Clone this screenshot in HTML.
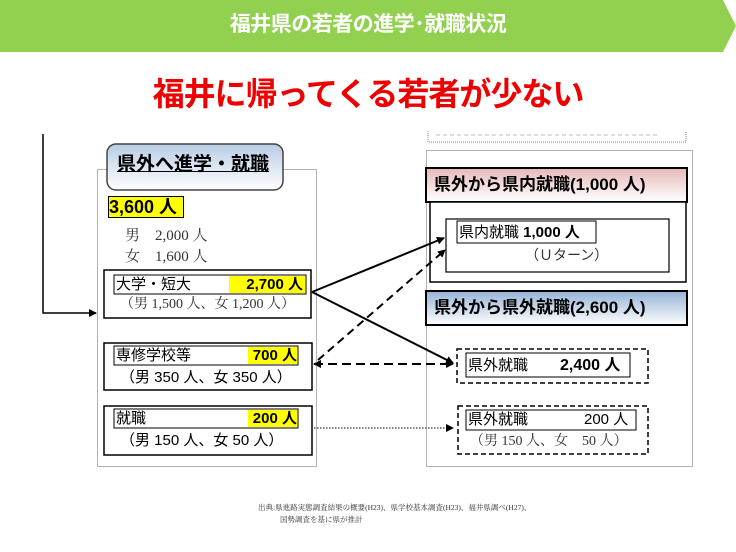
<!DOCTYPE html>
<html><head><meta charset="utf-8"><style>
*{margin:0;padding:0;box-sizing:border-box}
body{width:736px;height:552px;background:#fff;position:relative;overflow:hidden;font-family:"Liberation Sans","Noto Sans CJK JP",sans-serif}
.a{position:absolute}
.m{font-family:"Liberation Serif","Noto Serif CJK SC",serif}
.b{font-weight:bold}
.y{background:#ffff00}
</style></head><body>
<svg class="a" style="left:0;top:0" width="736" height="552">
<defs>
<marker id="ar" markerWidth="8" markerHeight="8" refX="7" refY="4" orient="auto" markerUnits="userSpaceOnUse"><path d="M0,0 L8,4 L0,8z" fill="#000"/></marker>
<marker id="ars" markerWidth="8" markerHeight="8" refX="1" refY="4" orient="auto" markerUnits="userSpaceOnUse"><path d="M8,0 L0,4 L8,8z" fill="#000"/></marker>
<linearGradient id="gb" x1="0" y1="0" x2="0" y2="1"><stop offset="0" stop-color="#b8cce4"/><stop offset="1" stop-color="#ffffff"/></linearGradient>
<linearGradient id="gp" x1="0" y1="0" x2="0" y2="1"><stop offset="0" stop-color="#e6b9b8"/><stop offset="1" stop-color="#ffffff"/></linearGradient>
<linearGradient id="gu" x1="0" y1="0" x2="0" y2="1"><stop offset="0" stop-color="#95b3d7"/><stop offset="1" stop-color="#ffffff"/></linearGradient>
</defs>
<polygon points="0,0 723,0 736,26 723,52 0,52" fill="#92d050"/>
<!-- left line -->
<polyline points="43,134 43,313 96,313" fill="none" stroke="#000" stroke-width="1.5" marker-end="url(#ar)"/>
<!-- dotted outer boxes -->
<rect x="97.5" y="169.5" width="219" height="297" fill="none" stroke="#666" stroke-width="1" stroke-dasharray="1,1"/>
<rect x="426.5" y="150.5" width="266" height="316" fill="none" stroke="#666" stroke-width="1" stroke-dasharray="1,1"/>
<path d="M428,131 V142 H686 V131" fill="none" stroke="#888" stroke-dasharray="1,1"/>
<line x1="436" y1="135" x2="660" y2="135" stroke="#bbb" stroke-dasharray="4,3"/>
<!-- header left -->
<rect x="107" y="144" width="176" height="46" rx="9" fill="url(#gb)" stroke="#444" stroke-width="1.5"/>
<!-- left boxes -->
<rect x="104" y="270" width="207" height="48" fill="#fff" stroke="#000" stroke-width="1.5"/>
<rect x="114" y="275" width="192" height="19" fill="none" stroke="#000" stroke-width="1"/>
<rect x="104" y="343" width="208" height="47" fill="#fff" stroke="#000" stroke-width="1.5"/>
<rect x="114" y="346" width="184" height="19" fill="none" stroke="#000" stroke-width="1"/>
<rect x="104" y="406" width="208" height="49" fill="#fff" stroke="#000" stroke-width="1.5"/>
<rect x="114" y="409" width="184" height="19" fill="none" stroke="#000" stroke-width="1"/>
<!-- right -->
<rect x="426" y="168" width="261" height="34" fill="url(#gp)" stroke="#000" stroke-width="2"/>
<rect x="430" y="202" width="256" height="80" fill="#fff" stroke="#000" stroke-width="1.5"/>
<rect x="446" y="219" width="223" height="53" fill="#fff" stroke="#000" stroke-width="1.2"/>
<rect x="457" y="221" width="139" height="22" fill="none" stroke="#000" stroke-width="1"/>
<rect x="426" y="291" width="261" height="34" fill="url(#gu)" stroke="#000" stroke-width="2"/>
<rect x="457" y="349" width="191" height="34" fill="#fff" stroke="#000" stroke-width="1.5" stroke-dasharray="5,3"/>
<rect x="466" y="353" width="164" height="24" fill="none" stroke="#000" stroke-width="1"/>
<rect x="458" y="406" width="190" height="48" fill="#fff" stroke="#000" stroke-width="1.5" stroke-dasharray="5,3"/>
<rect x="466" y="410" width="170" height="20" fill="none" stroke="#000" stroke-width="1"/>
<!-- arrows -->
<line x1="312" y1="292" x2="444" y2="238" stroke="#000" stroke-width="2" marker-end="url(#ar)"/>
<line x1="312" y1="292" x2="453" y2="363" stroke="#000" stroke-width="2" marker-end="url(#ar)"/>
<line x1="318" y1="360" x2="445" y2="250" stroke="#000" stroke-width="2" stroke-dasharray="8,5" marker-end="url(#ar)"/>
<line x1="314" y1="364" x2="453" y2="364" stroke="#000" stroke-width="2" stroke-dasharray="9,5" marker-start="url(#ars)" marker-end="url(#ar)"/>
<line x1="314" y1="428" x2="453" y2="428" stroke="#000" stroke-width="1" stroke-dasharray="1.5,1.5" marker-end="url(#ar)"/>
</svg>
<div class="a b" style="left:0;width:736px;top:10px;text-align:center;color:#fff;font-size:21px;line-height:30px;letter-spacing:-0.5px">福井県の若者の進学･就職状況</div>
<div class="a b" style="left:0;width:736px;top:72px;text-align:center;color:#ee0000;font-size:32px;line-height:44px;letter-spacing:-1px">福井に帰ってくる若者が少ない</div>
<div class="a b" style="left:117px;top:152px;font-size:19px;line-height:26px;text-decoration:underline">県外へ進学・就職</div>
<div class="a b y" style="left:108px;top:196px;width:76px;height:22px;border:1px solid #000;font-size:18px;line-height:20px">3,600 人</div>
<div class="a m" style="left:125px;top:226px;font-size:15px;line-height:20px;color:#333;white-space:pre">男　2,000 人</div>
<div class="a m" style="left:125px;top:247px;font-size:15px;line-height:20px;color:#333;white-space:pre">女　1,600 人</div>
<div class="a" style="left:116px;top:275px;font-size:15px;line-height:19px">大学・短大</div>
<div class="a b y" style="left:229px;top:276px;width:76px;font-size:15px;line-height:17px;text-align:right;padding-right:2px">2,700 人</div>
<div class="a m" style="left:120px;top:296px;font-size:14px;line-height:18px;color:#333">（男 1,500 人、女 1,200 人）</div>
<div class="a" style="left:116px;top:346px;font-size:15px;line-height:19px">専修学校等</div>
<div class="a b y" style="left:248px;top:347px;width:49px;font-size:15px;line-height:17px;text-align:right">700 人</div>
<div class="a" style="left:120px;top:368px;font-size:15px;line-height:19px">（男 350 人、女 350 人）</div>
<div class="a" style="left:116px;top:409px;font-size:15px;line-height:19px">就職</div>
<div class="a b y" style="left:248px;top:410px;width:49px;font-size:15px;line-height:17px;text-align:right">200 人</div>
<div class="a" style="left:120px;top:431px;font-size:15px;line-height:19px">（男 150 人、女 50 人）</div>
<div class="a b" style="left:434px;top:173px;font-size:17px;line-height:24px">県外から県内就職(1,000 人)</div>
<div class="a" style="left:459px;top:223px;font-size:15px;line-height:19px">県内就職 <b>1,000 人</b></div>
<div class="a" style="left:525px;top:246px;font-size:14px;line-height:19px;color:#333">（Ｕターン）</div>
<div class="a b" style="left:434px;top:296px;font-size:17px;line-height:24px">県外から県外就職(2,600 人)</div>
<div class="a" style="left:468px;top:356px;font-size:15px;line-height:19px">県外就職</div>
<div class="a b" style="left:560px;top:356px;font-size:16px;line-height:19px">2,400 人</div>
<div class="a" style="left:468px;top:410px;font-size:15px;line-height:19px">県外就職</div>
<div class="a" style="left:584px;top:410px;font-size:15px;line-height:19px">200 人</div>
<div class="a m" style="left:470px;top:432px;font-size:14px;line-height:19px;color:#333;white-space:pre">（男 150 人、女　50 人）</div>
<div class="a m" style="left:258px;top:503px;font-size:7.5px;line-height:10px;color:#333">出典:県進路実態調査結果の概要(H23)、県学校基本調査(H23)、福井県調べ(H27)、</div>
<div class="a m" style="left:280px;top:515px;font-size:7.5px;line-height:10px;color:#333">国勢調査を基に県が推計</div>
</body></html>
